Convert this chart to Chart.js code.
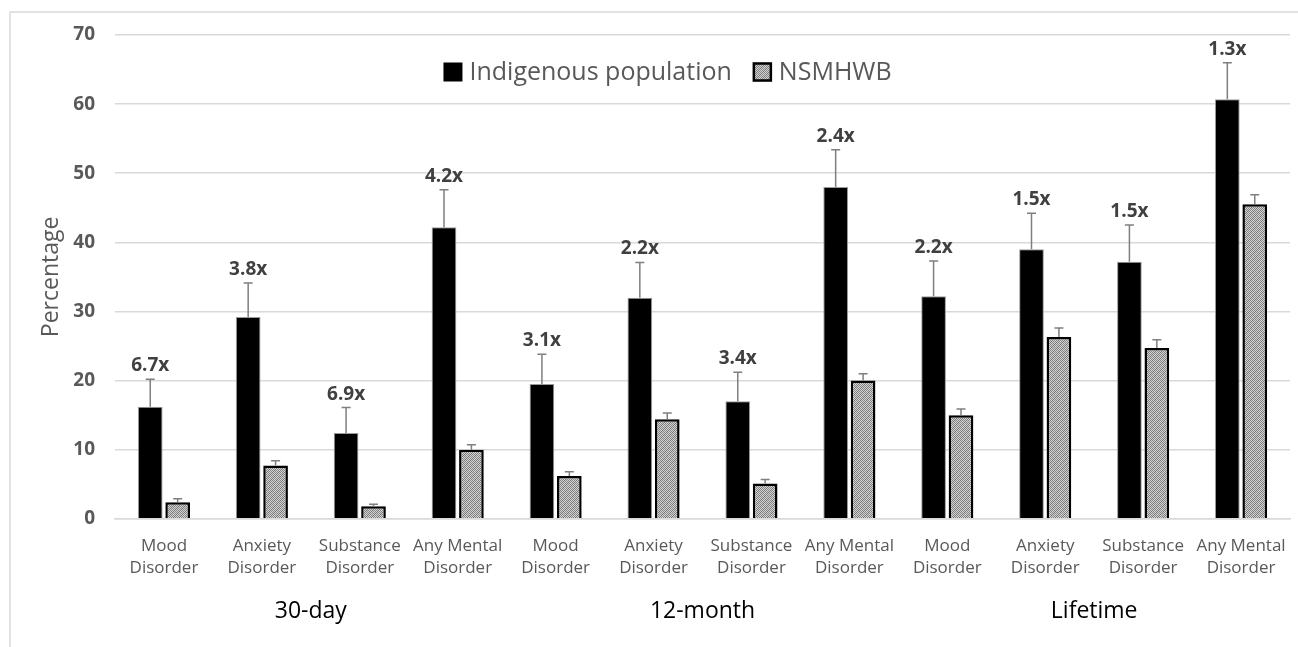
<!DOCTYPE html>
<html>
<head>
<meta charset="utf-8">
<script src="https://cdn.jsdelivr.net/npm/chart.js@4.4.0/dist/chart.umd.min.js"></script>
<style>
  body { margin: 0; background: #fff; }
  #wrap { position: relative; width: 1298px; height: 647px; }
  #frame { position: absolute; left: 9px; top: 11px; width: 1300px; height: 650px; border: 2px solid #e2e2e2; box-sizing: border-box; pointer-events: none; }
</style>
</head>
<body>
<div id="wrap">
  <div id="frame"></div>
  <canvas id="chart" width="1298" height="647"></canvas>
</div>
<script>
// Datos
const categories = [
  ['Mood', 'Disorder'], ['Anxiety', 'Disorder'], ['Substance', 'Disorder'], ['Any Mental', 'Disorder'],
  ['Mood', 'Disorder'], ['Anxiety', 'Disorder'], ['Substance', 'Disorder'], ['Any Mental', 'Disorder'],
  ['Mood', 'Disorder'], ['Anxiety', 'Disorder'], ['Substance', 'Disorder'], ['Any Mental', 'Disorder']
];
const groups = ['30-day', '12-month', 'Lifetime'];
const groupSize = 4;

const indigenous = [16.2, 29.2, 12.4, 42.2, 19.5, 32.0, 17.0, 48.0, 32.2, 39.0, 37.2, 60.7];
const indigenousUpper = [20.2, 34.1, 16.1, 47.6, 23.8, 37.1, 21.2, 53.4, 37.3, 44.2, 42.5, 66.0];
const nsmhwb = [2.4, 7.7, 1.8, 10.0, 6.2, 14.4, 5.1, 20.0, 15.0, 26.3, 24.7, 45.5];
const nsmhwbUpper = [2.9, 8.4, 2.1, 10.7, 6.8, 15.3, 5.7, 21.0, 15.9, 27.6, 25.9, 46.9];
const ratios = ['6.7x', '3.8x', '6.9x', '4.2x', '3.1x', '2.2x', '3.4x', '2.4x', '2.2x', '1.5x', '1.5x', '1.3x'];
const yTicks = [0, 10, 20, 30, 40, 50, 60, 70];

const FONT = "'Open Sans', 'Noto Sans', sans-serif";

// Trama gris fina para la serie NSMHWB
function makePattern() {
    const c = document.createElement('canvas');
    c.width = 6; c.height = 6;
    const g = c.getContext('2d');
    g.fillStyle = '#d2d2d2';
    g.fillRect(0, 0, 6, 6);
    for (let y = 0; y < 6; y++) {
        for (let x = 0; x < 6; x++) {
            if ((x + y) % 2 === 0) {
                g.fillStyle = ((x + y) % 6 === 0) ? '#727272' : '#878787';
                g.fillRect(x, y, 1, 1);
            }
        }
    }
    return g.createPattern(c, 'repeat');
}
const hatch = makePattern();

// Barras de error, etiquetas de razón, leyenda y grupos
const extras = {
    id: 'extras',
    afterDatasetsDraw(chart) {
        const ctx = chart.ctx;
        const y = chart.scales.y;
        const uppers = [indigenousUpper, nsmhwbUpper];
        ctx.save();
        ctx.strokeStyle = '#7f7f7f';
        ctx.lineWidth = 1.5;
        uppers.forEach((up, d) => {
            chart.getDatasetMeta(d).data.forEach((bar, i) => {
                const top = y.getPixelForValue(up[i]);
                ctx.beginPath();
                ctx.moveTo(bar.x, bar.y);
                ctx.lineTo(bar.x, top);
                ctx.moveTo(bar.x - 4.5, top);
                ctx.lineTo(bar.x + 4.5, top);
                ctx.stroke();
            });
        });
        // razones sobre la barra indígena
        ctx.fillStyle = '#404040';
        ctx.font = "bold 19px " + FONT;
        ctx.textAlign = 'center';
        ctx.textBaseline = 'alphabetic';
        chart.getDatasetMeta(0).data.forEach((bar, i) => {
            ctx.fillText(ratios[i], bar.x, y.getPixelForValue(indigenousUpper[i]) - 8);
        });
        ctx.restore();
    },
    afterDraw(chart) {
        const ctx = chart.ctx;
        const area = chart.chartArea;
        const x = chart.scales.x;
        ctx.save();
        // leyenda dentro del área
        ctx.font = "25px " + FONT;
        ctx.textBaseline = 'middle';
        ctx.textAlign = 'left';
        const items = [
            { text: 'Indigenous population', fill: '#000', stroke: null },
            { text: 'NSMHWB', fill: hatch, stroke: '#000' }
        ];
        const box = 19, gapBox = 7, gapItem = 21;
        let total = 0;
        items.forEach((it, k) => {
            it.w = ctx.measureText(it.text).width;
            total += box + gapBox + it.w + (k ? gapItem : 0);
        });
        let lx = (area.left + area.right) / 2 - 35 - total / 2;
        const ly = area.top + 37;
        items.forEach((it, k) => {
            if (k) lx += gapItem;
            ctx.fillStyle = it.fill;
            ctx.fillRect(lx, ly - box / 2, box, box);
            if (it.stroke) {
                ctx.strokeStyle = it.stroke;
                ctx.lineWidth = 2.5;
                ctx.strokeRect(lx + 1, ly - box / 2 + 1, box - 2, box - 2);
            }
            lx += box + gapBox;
            ctx.fillStyle = '#595959';
            ctx.fillText(it.text, lx, ly + 1);
            lx += it.w;
        });
        // etiquetas de grupo
        ctx.font = "23px " + FONT;
        ctx.fillStyle = '#000';
        ctx.textAlign = 'center';
        ctx.textBaseline = 'alphabetic';
        groups.forEach((g, k) => {
            const a = x.getPixelForValue(k * groupSize);
            const b = x.getPixelForValue(k * groupSize + groupSize - 1);
            ctx.fillText(g, (a + b) / 2, area.bottom + 99);
        });
        ctx.restore();
    }
};

new Chart(document.getElementById('chart'), {
    type: 'bar',
    data: {
        labels: categories,
        datasets: [
            {
                label: 'Indigenous population',
                data: indigenous,
                backgroundColor: '#000',
                borderColor: '#9a9a9a',
                borderWidth: 1,
                categoryPercentage: 0.56,
                barPercentage: 0.9
            },
            {
                label: 'NSMHWB',
                data: nsmhwb,
                backgroundColor: hatch,
                borderColor: '#000',
                borderWidth: 2.5,
                categoryPercentage: 0.56,
                barPercentage: 0.9
            }
        ]
    },
    options: {
        responsive: false,
        animation: false,
        layout: { padding: { left: 38, right: 8, top: 35, bottom: 60 } },
        plugins: {
            legend: { display: false },
            tooltip: { enabled: false }
        },
        scales: {
            x: {
                grid: { display: false },
                border: { color: '#d9d9d9', width: 1.5 },
                ticks: {
                    color: '#595959',
                    font: { family: FONT, size: 17, lineHeight: 1.3 },
                    padding: 8,
                    maxRotation: 0,
                    autoSkip: false
                }
            },
            y: {
                min: 0,
                max: 70,
                afterBuildTicks(axis) { axis.ticks = yTicks.map(v => ({ value: v })); },
                afterFit(axis) { axis.width = 77; },
                grid: { color: '#d9d9d9', lineWidth: 1.5, drawTicks: false },
                border: { display: false },
                ticks: {
                    color: '#595959',
                    font: { family: FONT, size: 19, weight: 'bold' },
                    padding: 20
                },
                title: {
                    display: true,
                    text: 'Percentage',
                    color: '#595959',
                    font: { family: FONT, size: 23 },
                    padding: { top: 0, bottom: 7 }
                }
            }
        }
    },
    plugins: [extras]
});
</script>
</body>
</html>
